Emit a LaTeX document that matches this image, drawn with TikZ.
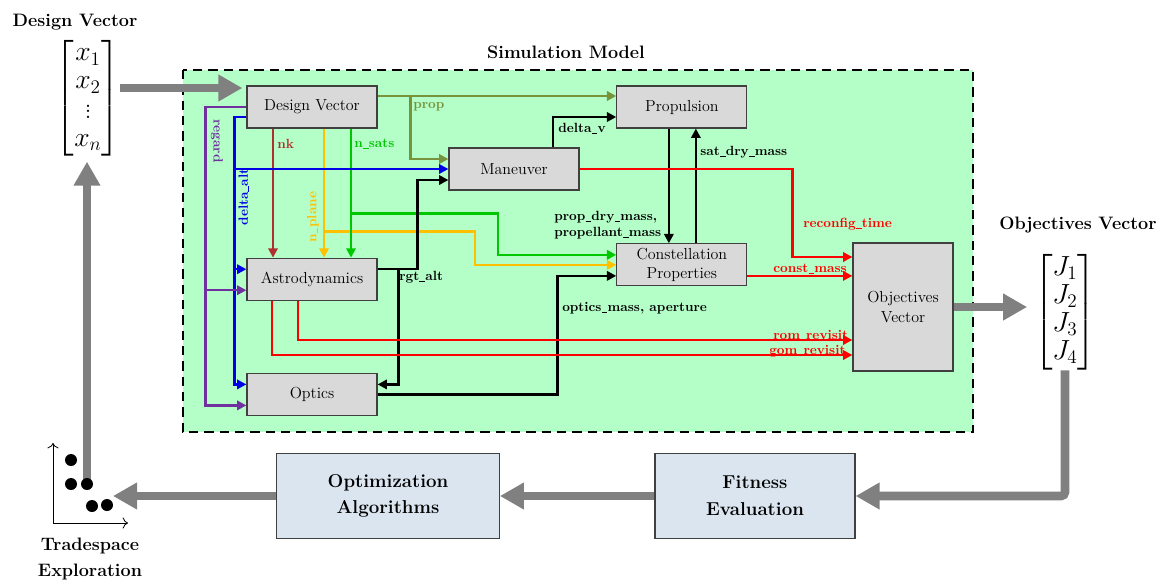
\documentclass[tikz,border=0pt]{standalone}
\usepackage{amsmath}
\usepackage{tikz}
\usetikzlibrary{arrows.meta, positioning, calc}
\definecolor{simgreen}{RGB}{180,255,200}
\definecolor{boxgray}{RGB}{217,217,217}
\definecolor{boxblue}{RGB}{218,229,240}
\definecolor{arrowgray}{RGB}{128,128,128}
\definecolor{colorRegard}{RGB}{112,48,160}
\definecolor{colorAlt}{RGB}{0,0,230}
\definecolor{colorNk}{RGB}{176,48,48}
\definecolor{colorPlane}{RGB}{255,192,0}
\definecolor{colorSats}{RGB}{0,200,0}
\definecolor{colorProp}{RGB}{119,147,60}
\definecolor{colorObj}{RGB}{255,0,0}
\newcommand{\us}{\kern0.02em\rule[-0.1em]{0.42em}{0.07em}\kern0.02em}

\begin{document}
\begin{tikzpicture}[x=0.75pt, y=-0.75pt,
  block/.style={draw=black!75, fill=boxgray, line width=0.9pt, minimum width=97.5pt, minimum height=31.5pt, inner sep=1pt, align=center, font=\fontsize{12}{14.5}\selectfont},
  loopbox/.style={draw=black!75, fill=boxblue, line width=0.9pt, minimum height=63.75pt, align=center, font=\fontsize{14}{20}\selectfont\bfseries},
  title/.style={font=\fontsize{13.5}{19.5}\selectfont\bfseries, align=center},
  vec/.style={font=\fontsize{21}{21}\selectfont, inner sep=0pt},
  flow/.style={line width=1.8pt, -{Triangle[length=7pt,width=7pt]}},
  feed/.style={draw=arrowgray, line width=6.5pt, -{Triangle[length=18pt,width=19pt]}},
  lbl/.style={font=\fontsize{10}{12}\selectfont\bfseries, inner sep=0pt, anchor=west},
  axis/.style={line width=0.6pt, -{To[length=4pt]}}]
\useasboundingbox (0,0) rectangle (1164,583);

\draw[dashed, dash pattern=on 7pt off 4.5pt, line width=1.8pt, fill=simgreen] (183,70) rectangle (973,432);
\node[title] (simtitle) at (566,52) {Simulation Model};

\node[title] (dvtitle) at (75,22) {Design Vector};
\node[vec] (dvec) at (88,98) {$\left[\begin{array}{@{}c@{}} x_1\\ x_2\\ \vdots\\ x_n\end{array}\right]$};
\node[title] (jtitle) at (1078,225) {Objectives Vector};
\node[vec] (jvec) at (1065,312) {$\left[\begin{array}{@{}c@{}} J_1\\ J_2\\ J_3\\ J_4\end{array}\right]$};

\node[block] (dv) at (312,107) {Design Vector};
\node[block, right=179pt of dv] (prop) {Propulsion};
\node[block] (man) at (514,169) {Maneuver};
\node[block, below=86pt of prop] (cp) {Constellation\\Properties};
\node[block, below=96.75pt of dv] (ast) {Astrodynamics};
\node[block, below=54pt of ast] (opt) {Optics};
\node[block, minimum width=75pt, minimum height=96pt] (obj) at (903,307) {Objectives\\Vector};

\node[loopbox, minimum width=167pt] (alg) at (388,496) {Optimization\\Algorithms};
\node[loopbox, minimum width=150pt] (fit) at (755,496) {Fitness\\Evaluation};

\node[lbl, colorRegard, rotate=-90, anchor=center] at (217,141) {regard};
\node[lbl, colorAlt, rotate=90, anchor=center] at (244,197) {delta\us alt};
\node[lbl, colorNk] at (277,144) {nk};
\node[lbl, colorPlane, rotate=90, anchor=center] at (313,217) {n\us plane};
\node[lbl, colorSats] at (354,144) {n\us sats};
\node[lbl, colorProp] at (413,107) {prop};
\node[lbl] at (558,129) {delta\us v};
\node[lbl] at (700,152) {sat\us dry\us mass};
\node[lbl, align=left] at (554,225) {prop\us dry\us mass,\\propellant\us mass};
\node[lbl] at (399,277) {rgt\us alt};
\node[lbl] at (562,308) {optics\us mass, aperture};
\node[lbl, colorObj] at (803,224) {reconfig\us time};
\node[lbl, colorObj] at (773,269) {const\us mass};
\node[lbl, colorObj] at (773,336) {rom\us revisit};
\node[lbl, colorObj] at (769,351) {gom\us revisit};

\draw[flow, colorProp] ($(dv.east)+(0,-11)$) -- ($(prop.west)+(0,-11)$);
\draw[flow, colorProp] ($(dv.east)+(33,-11)$) |- ($(man.west)+(0,-10)$);
\draw[flow, colorNk] ($(dv.south)+(-39,0)$) -- ($(ast.north)+(-39,0)$);
\draw[flow, colorPlane] ($(dv.south)+(12,0)$) -- ($(ast.north)+(12,0)$);
\draw[flow, colorPlane] ($(dv.south)+(12,103)$) -- ++(151,0) |- (cp.west);
\draw[flow, colorSats] ($(dv.south)+(39,0)$) -- ($(ast.north)+(39,0)$);
\draw[flow, colorSats] ($(dv.south)+(39,85)$) -- ++(147,0) |- ($(cp.west)+(0,-10)$);
\draw[flow, colorAlt] ($(dv.west)+(0,10)$) -- ++(-12,0) |- ($(opt.west)+(0,-10)$);
\draw[flow, colorAlt] ($(dv.west)+(-12,62)$) -- (man.west);
\draw[flow, colorAlt] ($(ast.west)+(-12,-10)$) -- ($(ast.west)+(0,-10)$);
\draw[flow, colorRegard] (dv.west) -- ++(-41,0) |- ($(opt.west)+(0,11)$);
\draw[flow, colorRegard] ($(ast.west)+(-41,11)$) -- ($(ast.west)+(0,11)$);

\draw[flow] ($(ast.east)+(0,-10)$) -- ++(40,0) |- ($(man.west)+(0,11)$);
\draw[flow] ($(ast.east)+(21,-10)$) |- ($(opt.east)+(0,-10)$);
\draw[flow] ($(man.north)+(39,0)$) |- ($(prop.west)+(0,10)$);
\draw[flow] ($(prop.south)+(-13,0)$) -- ($(cp.north)+(-13,0)$);
\draw[flow] ($(cp.north)+(14,0)$) -- ($(prop.south)+(14,0)$);
\draw[flow] (opt.east) -- ++(180,0) |- ($(cp.west)+(0,11)$);

\coordinate (cmass) at ($(cp.east)+(0,11)$);
\draw[flow, colorObj] (man.east) -- ++(213,0) |- ($(obj.west)+(0,-50)$);
\draw[flow, colorObj] (cmass) -- (cmass -| obj.west);
\draw[flow, colorObj] ($(ast.south)+(-14,0)$) |- ($(obj.west)+(0,33)$);
\draw[flow, colorObj] ($(ast.south)+(-40,0)$) |- ($(obj.west)+(0,48)$);

\coordinate (dvin) at ([yshift=7.5pt]dvec.east);
\coordinate (tsin) at (113,496);
\coordinate (tsup) at (87,484);
\draw[feed, shorten >=3pt] (dvin) -- (dvin -| dv.west);
\draw[feed, shorten >=5pt] (obj.east) -- (obj.east -| jvec.west);
\draw[feed, rounded corners=3pt] (jvec.south) |- (fit.east);
\draw[feed] (fit.west) -- (alg.east);
\draw[feed] (alg.west) -- (tsin);
\draw[feed, shorten >=4pt] (tsup) -- (tsup |- dvec.south);

\coordinate (ts) at (53,523);
\draw[axis] (ts) -- ++(0,-80);
\draw[axis] (ts) -- ++(75,0);
\foreach \px/\py in {71/460, 71/484, 87/484, 92/506, 107/505}
  \fill (\px,\py) circle[radius=4.5pt];
\node[title] (tstitle) at (90,559) {Tradespace\\Exploration};
\end{tikzpicture}
\end{document}
